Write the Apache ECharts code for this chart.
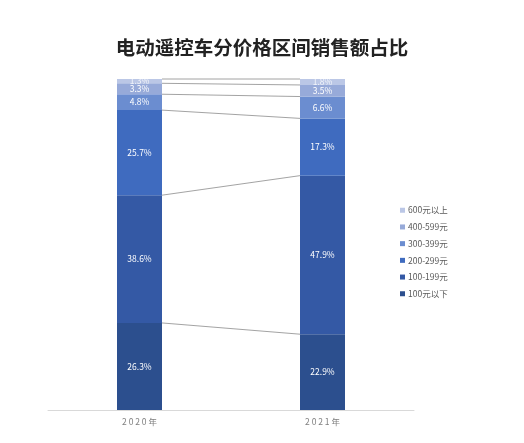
<!DOCTYPE html>
<html><head><meta charset="utf-8">
<script src="https://cdn.jsdelivr.net/npm/echarts@6/dist/echarts.min.js"></script>
<style>html,body{margin:0;padding:0;background:#fff}#c{width:524px;height:443px}</style>
</head><body><div id="c"></div>
<script>
const categories = ['2020年', '2021年'];
const seriesNames = ['100元以下', '100-199元', '200-299元', '300-399元', '400-599元', '600元以上'];
const under100 = [26.3, 22.9];
const p100_199 = [38.6, 47.9];
const p200_299 = [25.7, 17.3];
const p300_399 = [4.8, 6.6];
const p400_599 = [3.3, 3.5];
const over600 = [1.3, 1.8];
const values = [under100, p100_199, p200_299, p300_399, p400_599, over600];
const colors = ['#2C4F8E', '#3459A5', '#3F6BBF', '#6B8DD0', '#97AAD9', '#BBC7E6'];
const BAR_W = 45;

// cumulative boundaries for connecting series lines
const boundaries = [];
let ca = 0, cb = 0;
values.forEach(v => { ca += v[0]; cb += v[1]; boundaries.push([0, +ca.toFixed(1), +cb.toFixed(1)]); });

const font = '"Noto Sans CJK SC", "Noto Sans", sans-serif';
const series = values.map((v, i) => ({
  name: seriesNames[i],
  type: 'bar',
  stack: 'total',
  barWidth: BAR_W,
  data: v,
  itemStyle: { color: colors[i] },
  label: {
    show: true, position: 'inside', color: i === 5 ? 'rgba(255,255,255,0.8)' : '#fff',
    fontSize: 8.5, fontFamily: font, formatter: p => p.value.toFixed(1) + '%'
  },
  emphasis: { disabled: true }
}));
series.push({
  type: 'custom',
  silent: true,
  data: boundaries,
  z: 1,
  renderItem: (params, api) => {
    const a = api.coord([0, api.value(1)]);
    const b = api.coord([1, api.value(2)]);
    return {
      type: 'line',
      shape: { x1: a[0] + BAR_W / 2, y1: a[1], x2: b[0] - BAR_W / 2, y2: b[1] },
      style: { stroke: '#8C8C8C', lineWidth: 0.8 }
    };
  }
});

const chart = echarts.init(document.getElementById('c'));
chart.setOption({
  animation: false,
  backgroundColor: '#fff',
  title: {
    text: '电动遥控车分价格区间销售额占比', left: 'center', top: 33,
    textStyle: { fontSize: 19.5, fontWeight: 'bold', color: '#222', fontFamily: font }
  },
  legend: {
    orient: 'vertical', left: 395, top: 201, itemWidth: 5, itemHeight: 5, itemGap: 8.2,
    icon: 'rect',
    data: seriesNames.slice().reverse(),
    textStyle: { fontSize: 8.5, color: '#595959', fontFamily: font, padding: [0, 0, 0, -2] }
  },
  grid: { left: 48, right: 110, top: 79, bottom: 33 },
  xAxis: {
    type: 'category', data: categories,
    axisLine: { lineStyle: { color: '#D9D9D9' } },
    axisTick: { show: false },
    axisLabel: { color: '#7F7F7F', fontSize: 8.5, fontFamily: font, margin: 8,
      formatter: s => s.split('').join(' ') }
  },
  yAxis: { type: 'value', min: 0, max: 100, show: false, splitLine: { show: false } },
  series: series
});
</script></body></html>
